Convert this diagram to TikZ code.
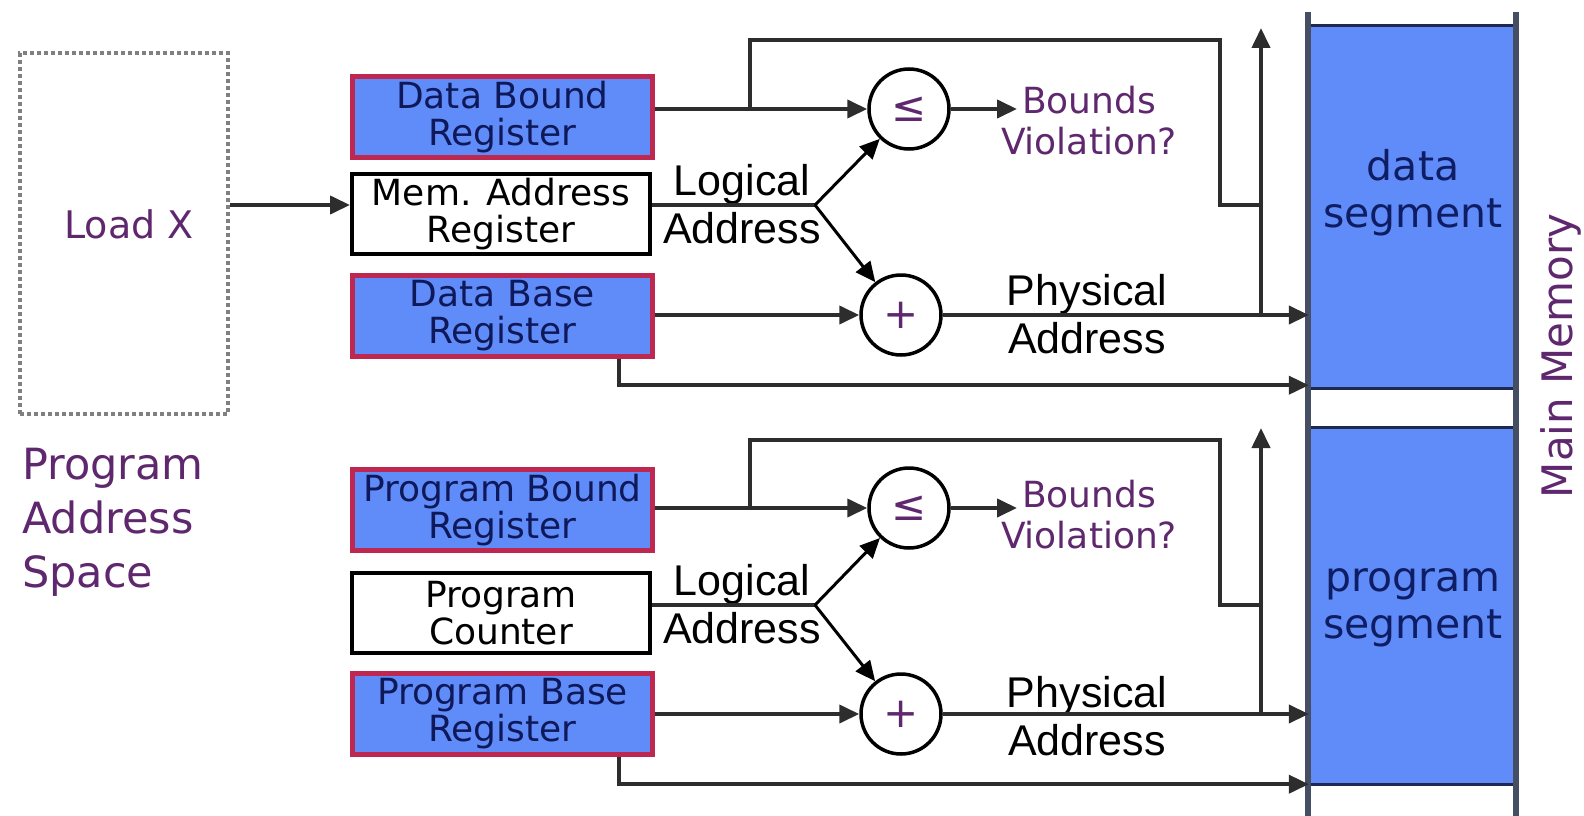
\documentclass[tikz,border=0pt]{standalone}
\usepackage{fontspec}
\setmainfont{DejaVu Sans}
\newfontfamily\arialfont{Liberation Sans}
\usetikzlibrary{arrows.meta,calc}
\definecolor{regfill}{RGB}{96,140,250}
\definecolor{regborder}{RGB}{190,40,80}
\definecolor{regtext}{RGB}{15,25,90}
\definecolor{purp}{RGB}{95,40,110}
\definecolor{linecol}{RGB}{45,45,45}
\definecolor{memline}{RGB}{70,78,100}
\definecolor{segborder}{RGB}{30,40,80}
\definecolor{segtext}{RGB}{15,30,100}
\begin{document}
\begin{tikzpicture}[x=1pt,y=-1pt,
  reg/.style={draw=regborder, line width=5pt, fill=regfill, text=regtext, minimum width=300pt, minimum height=81pt, inner sep=0pt, align=center, font=\fontsize{36}{37}\selectfont},
  plainreg/.style={draw=black, line width=4pt, fill=white, text=black, minimum width=298pt, minimum height=80pt, inner sep=0pt, align=center, font=\fontsize{36}{37}\selectfont},
  op/.style={circle, draw=black, line width=3.5pt, fill=white, minimum size=80pt, inner sep=0pt, text=purp, font=\fontsize{42}{42}\selectfont},
  wire/.style={draw=linecol, line width=4pt},
  thinwire/.style={draw=black, line width=3pt},
  arr/.style={-{Triangle[length=20pt,width=18pt]}},
  lbl/.style={align=center, inner sep=0pt, font=\arialfont\fontsize{43}{48}\selectfont},
  purplbl/.style={text=purp, align=center, inner sep=0pt, font=\fontsize{36}{41}\selectfont},
  seg/.style={fill=regfill, minimum width=206pt, inner sep=0pt},
  seglbl/.style={text=segtext, align=center, inner sep=0pt, font=\fontsize{41}{47}\selectfont},
  segedge/.style={draw=segborder, line width=3pt}
]
\useasboundingbox (0,0) rectangle (1584,816);

% program address space
\node[draw=gray, line width=4pt, dash pattern=on 4pt off 3pt, minimum width=208pt, minimum height=361pt, inner sep=0pt] (space) at (124,233.5) {};
\node[text=purp, inner sep=0pt, font=\fontsize{38}{38}\selectfont] (loadx) at (129,224) {Load X};
\node[text=purp, align=left, anchor=west, inner sep=0pt, font=\fontsize{43}{54}\selectfont] (pas) at (22,522) {Program\\Address\\Space};

% main memory
\node[seg, minimum height=362pt] (dataseg) at (1412,207) {};
\node[seg, minimum height=356pt] (progseg) at (1412,606) {};
\draw[segedge] (dataseg.north west) -- (dataseg.north east);
\draw[segedge] (dataseg.south west) -- (dataseg.south east);
\draw[segedge] (progseg.north west) -- (progseg.north east);
\draw[segedge] (progseg.south west) -- (progseg.south east);
\coordinate (mtopl) at (1308,12);
\coordinate (mtopr) at (1516,12);
\draw[memline, line width=6pt] (mtopl) -- (mtopl |- 0,816);
\draw[memline, line width=6pt] (mtopr) -- (mtopr |- 0,816);
\node[seglbl] (dtxt) at (1413,193) {data\\segment};
\node[seglbl] (ptxt) at (1413,608) {program\\segment};
\node[rotate=90, text=purp, inner sep=0pt, font=\fontsize{42}{42}\selectfont] (mm) at (1561,356) {Main Memory};

% ---------- data half ----------
\node[reg] (dbound) at (502.5,117) {Data Bound\\Register};
\node[plainreg] (mar) at (501,214) {Mem. Address\\Register};
\node[reg] (dbase) at (502.5,316) {Data Base\\Register};
\node[op] (le1) at (909,109) {≤};
\node[op] (add1) at (901,315) {+};
\coordinate (split1) at (815,205);
\coordinate (br1) at (750,109);
\coordinate (corner1) at (1220,40);
\coordinate (mid1) at (1261,205);
\coordinate (tap1) at (1261,315);
\coordinate (top1) at (1261,28);
\coordinate (bvin1) at (1017,109);
\coordinate (drop1) at (619,0);
\node[purplbl] (bv1) at (1089,121) {Bounds\\Violation?};
\node[lbl] (la1) at (742,204) {Logical\\Address};
\node[lbl] (pa1) at (1087,314) {Physical\\Address};

\draw[wire,arr] (space.east |- split1) -- (mar.west |- split1);
\draw[wire,arr] (dbound.east |- le1) -- (le1);
\draw[wire] (br1) |- (corner1) |- (mid1);
\draw[wire,arr] (le1) -- (bvin1);
\draw[wire] (mar.east |- split1) -- (split1);
\draw[thinwire,arr] (split1) -- (le1);
\draw[thinwire,arr] (split1) -- (add1);
\draw[wire,arr] (dbase.east |- add1) -- (add1);
\draw[wire,arr] (add1) -- (dataseg.west |- add1);
\draw[wire,arr] (tap1) -- (top1);
\draw[wire,arr] (dbase.south -| drop1) |- ([yshift=3pt]dataseg.south west);

% ---------- program half ----------
\node[reg] (pbound) at (502.5,510) {Program Bound\\Register};
\node[plainreg] (pc) at (501,613) {Program\\Counter};
\node[reg] (pbase) at (502.5,714) {Program Base\\Register};
\node[op] (le2) at (909,508) {≤};
\node[op] (add2) at (901,714) {+};
\coordinate (split2) at (815,605);
\coordinate (br2) at (750,508);
\coordinate (corner2) at (1220,440);
\coordinate (mid2) at (1261,605);
\coordinate (tap2) at (1261,714);
\coordinate (top2) at (1261,428);
\coordinate (bvin2) at (1017,508);
\node[purplbl] (bv2) at (1089,515) {Bounds\\Violation?};
\node[lbl] (la2) at (742,604) {Logical\\Address};
\node[lbl] (pa2) at (1087,716) {Physical\\Address};

\draw[wire,arr] (pbound.east |- le2) -- (le2);
\draw[wire] (br2) |- (corner2) |- (mid2);
\draw[wire,arr] (le2) -- (bvin2);
\draw[wire] (pc.east |- split2) -- (split2);
\draw[thinwire,arr] (split2) -- (le2);
\draw[thinwire,arr] (split2) -- (add2);
\draw[wire,arr] (pbase.east |- add2) -- (add2);
\draw[wire,arr] (add2) -- (progseg.west |- add2);
\draw[wire,arr] (tap2) -- (top2);
\draw[wire,arr] (pbase.south -| drop1) |- (progseg.south west);
\end{tikzpicture}
\end{document}
